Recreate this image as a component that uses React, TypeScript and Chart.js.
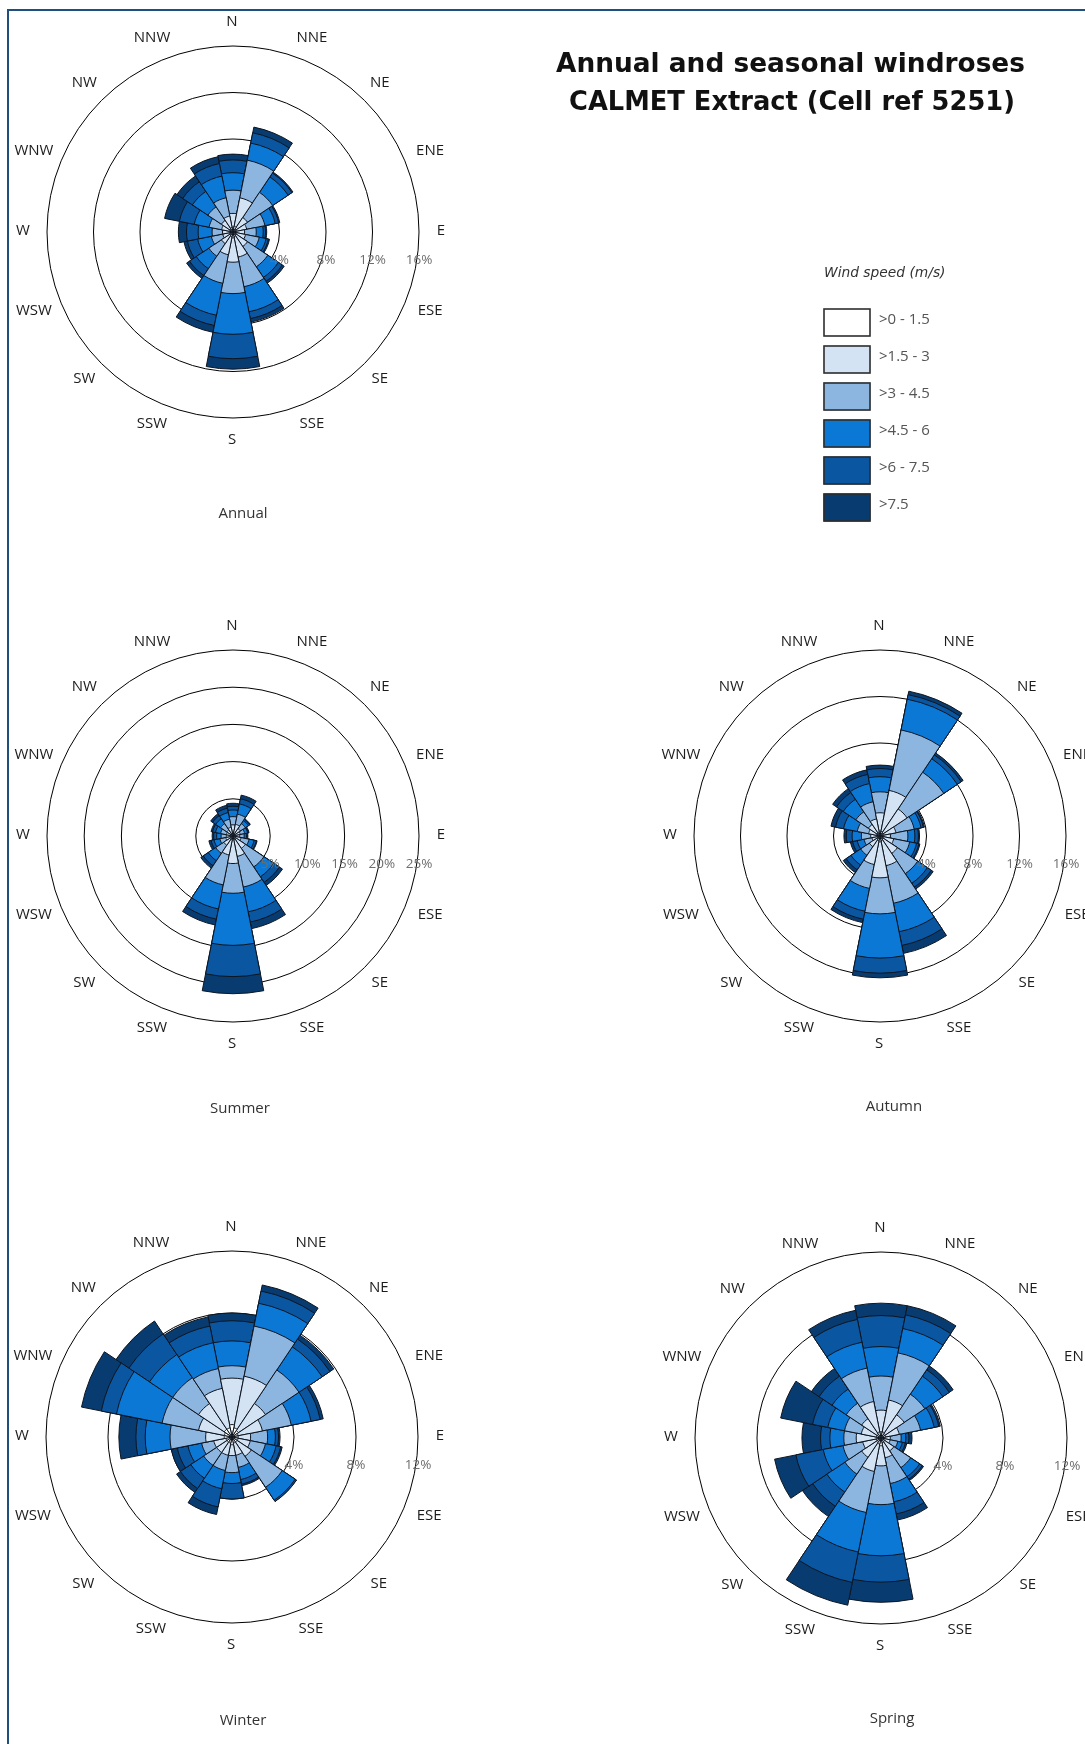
import React, { useEffect, useRef } from 'react';
import { Chart, registerables } from 'chart.js';

Chart.register(...registerables);

const DIRECTIONS = ['N', 'NNE', 'NE', 'ENE', 'E', 'ESE', 'SE', 'SSE', 'S', 'SSW', 'SW', 'WSW', 'W', 'WNW', 'NW', 'NNW'];
const SPEED_CLASSES = ['>0 - 1.5', '>1.5 - 3', '>3 - 4.5', '>4.5 - 6', '>6 - 7.5', '>7.5'];
const CLASS_COLOURS = ['#ffffff', '#d3e3f3', '#8cb5e0', '#0c78d5', '#0b56a0', '#083b6f'];

// Frequency of occurrence (%) per speed class, by direction (N clockwise to NNW)
const ANNUAL_C1 = [0.4, 0.5, 0.3, 0.3, 0.3, 0.3, 0.3, 0.4, 0.5, 0.4, 0.3, 0.3, 0.3, 0.3, 0.3, 0.4];
const ANNUAL_C2 = [1.2, 2.5, 1.2, 0.9, 0.7, 0.8, 1.2, 1.8, 2.1, 1.6, 0.9, 0.6, 0.6, 0.7, 0.9, 1.0];
const ANNUAL_C3 = [2.0, 3.3, 2.6, 1.6, 1.0, 1.2, 2.1, 2.6, 2.7, 2.5, 1.3, 1.0, 0.9, 1.1, 1.4, 1.6];
const ANNUAL_C4 = [1.5, 1.5, 1.6, 0.9, 0.6, 0.6, 1.1, 2.2, 3.5, 2.8, 1.3, 1.2, 1.2, 1.3, 1.6, 1.9];
const ANNUAL_C5 = [1.1, 0.9, 0.4, 0.3, 0.2, 0.2, 0.4, 0.6, 2.1, 0.9, 0.7, 0.9, 1.0, 1.3, 1.0, 1.1];
const ANNUAL_C6 = [0.5, 0.5, 0.1, 0.1, 0.1, 0.1, 0.2, 0.3, 0.9, 0.6, 0.3, 0.3, 0.7, 1.3, 0.6, 0.6];

const SUMMER_C1 = [0.4, 0.4, 0.3, 0.3, 0.3, 0.3, 0.4, 0.5, 0.5, 0.5, 0.4, 0.3, 0.3, 0.3, 0.3, 0.3];
const SUMMER_C2 = [1.1, 1.2, 0.9, 0.7, 0.6, 0.8, 1.6, 2.3, 3.2, 2.1, 1.1, 0.7, 0.6, 0.6, 0.7, 0.9];
const SUMMER_C3 = [1.1, 1.4, 0.8, 0.6, 0.6, 1.1, 3.0, 4.2, 4.0, 4.1, 1.3, 0.8, 0.7, 0.8, 1.0, 1.1];
const SUMMER_C4 = [0.9, 1.4, 0.5, 0.4, 0.3, 0.7, 1.6, 3.4, 7.0, 3.3, 1.2, 0.8, 0.6, 0.7, 0.8, 0.9];
const SUMMER_C5 = [0.5, 0.7, 0.2, 0.1, 0.1, 0.3, 0.9, 1.4, 4.2, 1.4, 0.8, 0.4, 0.4, 0.4, 0.5, 0.6];
const SUMMER_C6 = [0.4, 0.5, 0.1, 0.1, 0.1, 0.1, 0.5, 0.9, 2.3, 0.8, 0.4, 0.3, 0.2, 0.2, 0.3, 0.4];

const AUTUMN_C1 = [0.4, 0.4, 0.3, 0.3, 0.2, 0.3, 0.3, 0.4, 0.5, 0.4, 0.3, 0.2, 0.2, 0.3, 0.3, 0.3];
const AUTUMN_C2 = [1.6, 3.6, 2.5, 1.1, 0.7, 0.9, 1.5, 2.2, 3.1, 2.1, 0.8, 0.5, 0.6, 0.7, 0.9, 1.2];
const AUTUMN_C3 = [1.8, 5.3, 3.8, 1.6, 1.5, 1.4, 2.1, 3.3, 3.1, 2.1, 0.9, 0.7, 0.8, 1.0, 1.3, 1.5];
const AUTUMN_C4 = [1.3, 2.7, 1.4, 0.6, 0.6, 0.6, 1.0, 2.5, 3.8, 2.0, 1.0, 0.6, 0.8, 1.2, 1.3, 1.6];
const AUTUMN_C5 = [0.7, 0.4, 0.4, 0.2, 0.3, 0.2, 0.4, 1.2, 1.3, 0.7, 0.5, 0.4, 0.5, 0.7, 0.7, 0.8];
const AUTUMN_C6 = [0.3, 0.3, 0.2, 0.1, 0.1, 0.1, 0.2, 0.7, 0.4, 0.3, 0.3, 0.2, 0.2, 0.4, 0.4, 0.4];

const WINTER_C1 = [0.8, 0.6, 0.5, 0.4, 0.4, 0.4, 0.4, 0.4, 0.5, 0.4, 0.4, 0.4, 0.5, 0.5, 0.6, 0.6];
const WINTER_C2 = [3.0, 3.4, 2.1, 1.6, 0.8, 0.8, 1.1, 0.8, 0.7, 0.8, 0.8, 0.8, 1.2, 1.7, 2.0, 2.6];
const WINTER_C3 = [0.8, 3.3, 2.6, 1.9, 1.1, 1.0, 2.4, 0.8, 1.1, 1.0, 1.0, 0.8, 2.3, 2.4, 2.0, 1.3];
const WINTER_C4 = [1.6, 1.5, 1.8, 1.3, 0.5, 0.7, 1.0, 0.8, 0.7, 1.2, 1.0, 0.9, 1.6, 3.0, 1.8, 1.7];
const WINTER_C5 = [1.3, 0.8, 0.6, 0.6, 0.2, 0.3, 0.1, 0.3, 1.0, 1.2, 0.8, 0.7, 0.6, 1.0, 1.6, 1.1];
const WINTER_C6 = [0.5, 0.4, 0.3, 0.2, 0.1, 0.1, 0.0, 0.1, 0.0, 0.5, 0.3, 0.4, 1.1, 1.3, 1.0, 0.6];

const SPRING_C1 = [0.4, 0.4, 0.3, 0.3, 0.2, 0.2, 0.3, 0.3, 0.5, 0.4, 0.3, 0.3, 0.3, 0.3, 0.3, 0.4];
const SPRING_C2 = [1.4, 2.1, 1.5, 0.9, 0.4, 0.4, 0.7, 1.0, 1.3, 1.8, 1.2, 0.9, 1.3, 1.0, 1.2, 2.0];
const SPRING_C3 = [2.2, 3.1, 1.6, 1.4, 0.7, 0.5, 1.3, 1.7, 2.5, 2.7, 1.3, 1.3, 0.8, 1.1, 1.2, 2.2];
const SPRING_C4 = [1.9, 1.6, 1.4, 0.9, 0.3, 0.3, 0.7, 1.2, 3.3, 2.6, 1.4, 1.3, 0.9, 1.1, 1.1, 1.7];
const SPRING_C5 = [2.0, 0.9, 0.5, 0.3, 0.2, 0.2, 0.2, 0.8, 1.7, 2.0, 1.1, 1.8, 0.6, 1.0, 1.0, 1.5];
const SPRING_C6 = [0.8, 0.6, 0.3, 0.1, 0.2, 0.1, 0.1, 0.4, 1.3, 1.5, 0.8, 1.4, 1.2, 2.1, 0.6, 0.6];

const TITLE_LINES = ['Annual and seasonal windroses', 'CALMET Extract (Cell ref 5251)'];
const LEGEND_TITLE = 'Wind speed (m/s)';

type RoseSpec = {
  caption: string;
  classes: number[][];
  max: number;
  step: number;
  cx: number;
  cy: number;
  capDx: number;
  capDy: number;
};

const ROSES: RoseSpec[] = [
  { caption: 'Annual', classes: [ANNUAL_C1, ANNUAL_C2, ANNUAL_C3, ANNUAL_C4, ANNUAL_C5, ANNUAL_C6], max: 16, step: 4, cx: 233, cy: 232, capDx: 10, capDy: 282 },
  { caption: 'Summer', classes: [SUMMER_C1, SUMMER_C2, SUMMER_C3, SUMMER_C4, SUMMER_C5, SUMMER_C6], max: 25, step: 5, cx: 233, cy: 836, capDx: 7, capDy: 273 },
  { caption: 'Autumn', classes: [AUTUMN_C1, AUTUMN_C2, AUTUMN_C3, AUTUMN_C4, AUTUMN_C5, AUTUMN_C6], max: 16, step: 4, cx: 880, cy: 836, capDx: 14, capDy: 271 },
  { caption: 'Winter', classes: [WINTER_C1, WINTER_C2, WINTER_C3, WINTER_C4, WINTER_C5, WINTER_C6], max: 12, step: 4, cx: 232, cy: 1437, capDx: 11, capDy: 284 },
  { caption: 'Spring', classes: [SPRING_C1, SPRING_C2, SPRING_C3, SPRING_C4, SPRING_C5, SPRING_C6], max: 12, step: 4, cx: 881, cy: 1438, capDx: 11, capDy: 281 },
];

const PAGE_W = 1085;
const PAGE_H = 1744;
const CANVAS_W = 480;
const CANVAS_H = 540;
const RING = 186; // outer ring radius in px
const PAD = (CANVAS_W - 2 * RING) / 2;
const LABEL_R = 209;
const TEXT_FONT = '"Open Sans", "DejaVu Sans", sans-serif';

// Compass labels, ring percentages and the caption of each rose
const roseText = {
  id: 'roseText',
  afterDraw(chart: any, _args: any, opts: any) {
    const scale = chart.scales.r;
    const ctx: CanvasRenderingContext2D = chart.ctx;
    const cx = scale.xCenter;
    const cy = scale.yCenter;
    ctx.save();
    ctx.textAlign = 'center';
    ctx.textBaseline = 'middle';

    ctx.font = `15px ${TEXT_FONT}`;
    ctx.fillStyle = '#1c1c1c';
    DIRECTIONS.forEach((d, i) => {
      const a = (i * Math.PI) / 8;
      const s = Math.sin(a);
      const extra = d.length === 3 && Math.abs(s) > 0.9 ? 5 * Math.sign(s) : 0;
      ctx.fillText(d, cx - 1 + LABEL_R * s + extra, cy - 1 - LABEL_R * Math.cos(a));
    });

    ctx.font = `13.5px ${TEXT_FONT}`;
    ctx.fillStyle = '#6e6e6e';
    scale.ticks.forEach((t: any) => {
      if (t.value > 0) {
        ctx.fillText(`${t.value}%`, cx + scale.getDistanceFromCenterForValue(t.value), cy + 28);
      }
    });

    ctx.font = `15px ${TEXT_FONT}`;
    ctx.fillStyle = '#333333';
    ctx.fillText(opts.caption, cx + opts.dx, cy + opts.dy);
    ctx.restore();
  },
};

function Rose({ spec }: { spec: RoseSpec }) {
  const ref = useRef<HTMLCanvasElement>(null);
  useEffect(() => {
    // stacked petals: each class is drawn out to its cumulative frequency
    const cumulative: number[][] = [];
    spec.classes.forEach((vals, k) => {
      cumulative.push(vals.map((v, i) => (k === 0 ? v : cumulative[k - 1][i] + v)));
    });
    const chart = new Chart(ref.current as HTMLCanvasElement, {
      type: 'polarArea',
      data: {
        labels: DIRECTIONS,
        datasets: cumulative.map((vals, k) => ({
          label: SPEED_CLASSES[k],
          data: vals,
          backgroundColor: CLASS_COLOURS[k],
          borderColor: '#0d1520',
          borderWidth: 1,
        })),
      },
      options: {
        responsive: false,
        animation: false,
        events: [],
        layout: { padding: { left: PAD, right: PAD, top: PAD, bottom: CANVAS_H - PAD - 2 * RING } },
        plugins: {
          legend: { display: false },
          tooltip: { enabled: false },
          roseText: { caption: spec.caption, dx: spec.capDx, dy: spec.capDy },
        } as any,
        scales: {
          r: {
            min: 0,
            max: spec.max,
            startAngle: -11.25,
            ticks: { display: false, stepSize: spec.step },
            grid: { color: '#000000', lineWidth: 1 },
            angleLines: { display: false },
            pointLabels: { display: false },
          },
        },
      } as any,
      plugins: [roseText],
    });
    return () => chart.destroy();
  }, [spec]);
  return (
    <canvas
      ref={ref}
      width={CANVAS_W}
      height={CANVAS_H}
      style={{ position: 'absolute', left: spec.cx - CANVAS_W / 2, top: spec.cy - CANVAS_W / 2 }}
    />
  );
}

// fit a bold title line to a given width
function fitLine(ctx: CanvasRenderingContext2D, text: string, width: number, x: number, y: number) {
  const family = '"DejaVu Sans", sans-serif';
  ctx.font = `bold 26px ${family}`;
  const size = (26 * width) / ctx.measureText(text).width;
  ctx.font = `bold ${size.toFixed(2)}px ${family}`;
  ctx.fillText(text, x, y);
}

function Heading() {
  const ref = useRef<HTMLCanvasElement>(null);
  useEffect(() => {
    const ctx = (ref.current as HTMLCanvasElement).getContext('2d') as CanvasRenderingContext2D;
    ctx.clearRect(0, 0, PAGE_W, 560);
    ctx.fillStyle = '#111111';
    ctx.textAlign = 'center';
    ctx.textBaseline = 'alphabetic';
    fitLine(ctx, TITLE_LINES[0], 469, 790.5, 71.5);
    fitLine(ctx, TITLE_LINES[1], 446, 792, 109.5);

    // speed class key
    ctx.textAlign = 'left';
    ctx.font = 'italic 13.8px "DejaVu Sans", sans-serif';
    ctx.fillStyle = '#333333';
    ctx.fillText(LEGEND_TITLE, 824, 277);
    ctx.font = `15px ${TEXT_FONT}`;
    SPEED_CLASSES.forEach((label, k) => {
      const top = 308.5 + k * 37;
      ctx.fillStyle = CLASS_COLOURS[k];
      ctx.fillRect(823.5, top, 47, 28);
      ctx.strokeStyle = '#2e2e2e';
      ctx.lineWidth = 1.6;
      ctx.strokeRect(824, top + 0.5, 46, 27);
      ctx.fillStyle = '#555555';
      ctx.fillText(label, 879, top + 15.5);
    });
  }, []);
  return <canvas ref={ref} width={PAGE_W} height={560} style={{ position: 'absolute', left: 0, top: 0 }} />;
}

export default function App() {
  return (
    <div
      style={{
        position: 'absolute',
        left: 0,
        top: 0,
        width: PAGE_W,
        height: PAGE_H,
        overflow: 'hidden',
        background: '#ffffff',
      }}
    >
      <div
        style={{
          position: 'absolute',
          left: 7,
          top: 9,
          width: PAGE_W + 100,
          height: PAGE_H + 100,
          borderLeft: '2px solid #1f4f7d',
          borderTop: '2px solid #1f4f7d',
        }}
      />
      <Heading />
      {ROSES.map((r) => (
        <Rose key={r.caption} spec={r} />
      ))}
    </div>
  );
}
